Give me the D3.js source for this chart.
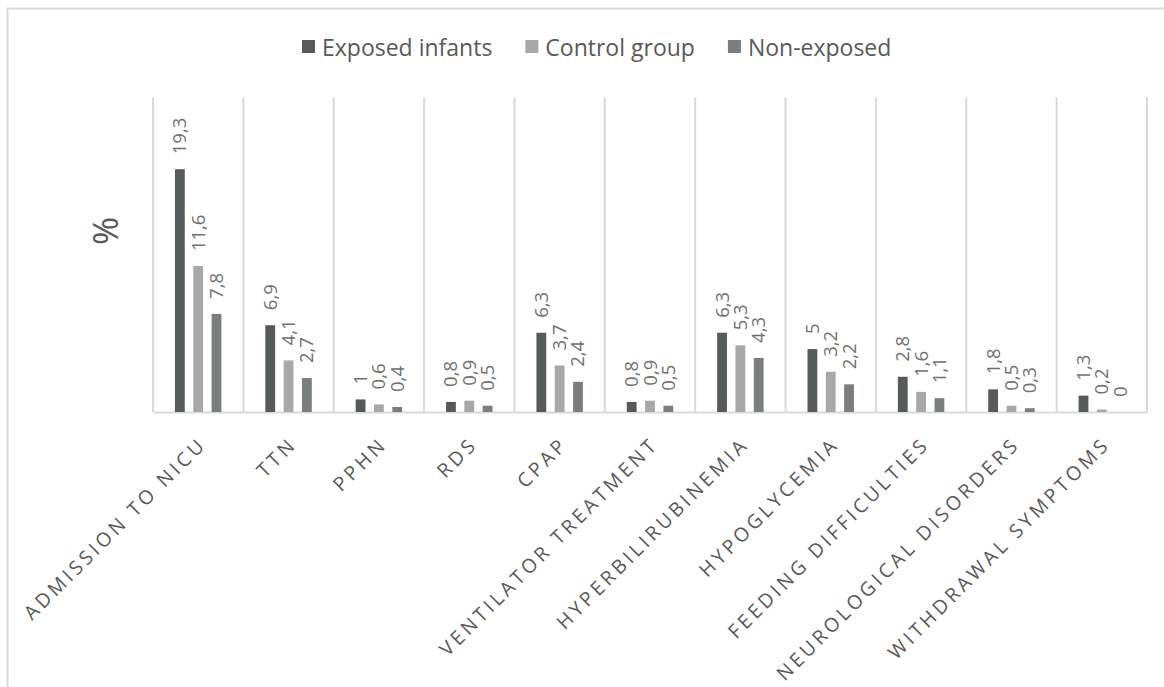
<!DOCTYPE html>
<html>
<head>
<meta charset="utf-8">
<script src="https://cdn.jsdelivr.net/npm/d3@7/dist/d3.min.js"></script>
<style>
  html, body { margin: 0; padding: 0; background: #fff; }
  svg { display: block; }
</style>
</head>
<body>
<svg id="chart" width="1164" height="687"></svg>
<script>
// Neonatal outcomes (%) by exposure group
const categories = [
  "ADMISSION TO NICU", "TTN", "PPHN", "RDS", "CPAP", "VENTILATOR TREATMENT",
  "HYPERBILIRUBINEMIA", "HYPOGLYCEMIA", "FEEDING DIFFICULTIES",
  "NEUROLOGICAL DISORDERS", "WITHDRAWAL SYMPTOMS"
];
const seriesNames = ["Exposed infants", "Control group", "Non-exposed"];
const exposedInfants = [19.3, 6.9, 1, 0.8, 6.3, 0.8, 6.3, 5, 2.8, 1.8, 1.3];
const controlGroup   = [11.6, 4.1, 0.6, 0.9, 3.7, 0.9, 5.3, 3.2, 1.6, 0.5, 0.2];
const nonExposed     = [7.8, 2.7, 0.4, 0.5, 2.4, 0.5, 4.3, 2.2, 1.1, 0.3, 0];
const yAxisTitle = "%";

const seriesValues = [exposedInfants, controlGroup, nonExposed];
const seriesColors = ["#575a5a", "#a7a9a9", "#7b7e7e"];

const W = 1164, H = 687;
const plot = { left: 153, right: 1147, top: 97.5, bottom: 412 };
const gridColor = "#d9d9d9";
const FONT = "'Open Sans', 'Noto Sans', sans-serif";

const svg = d3.select("#chart");

// chart-area frame
svg.append("rect")
  .attr("x", 7.5).attr("y", 8.5)
  .attr("width", W + 20).attr("height", H + 20)
  .attr("fill", "#fff")
  .attr("stroke", gridColor).attr("stroke-width", 2);

const x0 = d3.scaleBand()
  .domain(categories)
  .range([plot.left, plot.right])
  .paddingInner(0).paddingOuter(0);

const cw = x0.bandwidth();
const x1 = d3.scaleBand()
  .domain(seriesNames)
  .range([cw * 0.243, cw * (1 - 0.243)])
  .paddingInner(0.465).paddingOuter(0);

const y = d3.scaleLinear().domain([0, 25]).range([plot.bottom, plot.top]);

// category separators
const edges = categories.map(c => x0(c)).concat([x0(categories[categories.length - 1]) + cw]);
svg.append("g").selectAll("line")
  .data(edges)
  .join("line")
  .attr("x1", d => d).attr("x2", d => d)
  .attr("y1", plot.top).attr("y2", plot.bottom)
  .attr("stroke", gridColor).attr("stroke-width", 2);

// baseline axis
const xAxis = d3.axisBottom(x0).tickSize(0).tickFormat("");
svg.append("g")
  .attr("transform", `translate(0,${plot.bottom})`)
  .call(xAxis)
  .call(g => g.select(".domain").attr("stroke", gridColor).attr("stroke-width", 2));

// bars
const rows = categories.map((c, i) => ({
  category: c,
  values: seriesNames.map((s, k) => ({ series: s, k, value: seriesValues[k][i] }))
}));

const groups = svg.append("g").selectAll("g")
  .data(rows)
  .join("g")
  .attr("transform", d => `translate(${x0(d.category)},0)`);

groups.selectAll("rect")
  .data(d => d.values)
  .join("rect")
  .attr("x", d => x1(d.series))
  .attr("width", x1.bandwidth())
  .attr("y", d => y(d.value))
  .attr("height", d => y(0) - y(d.value))
  .attr("fill", d => seriesColors[d.k]);

// value labels, rotated
const fmt = v => String(v).replace(".", ",");
groups.selectAll("text")
  .data(d => d.values)
  .join("text")
  .attr("transform", d =>
    `translate(${x1(d.series) + x1.bandwidth() / 2 + 6.5},${y(d.value) - 15}) rotate(-90)`)
  .attr("font-family", FONT)
  .attr("font-size", 18.5)
  .attr("fill", "#707070")
  .text(d => fmt(d.value));

// category labels at -45°
const labelSpacing = 3.5;
svg.append("g").selectAll("text")
  .data(categories)
  .join("text")
  .attr("transform", c =>
    `translate(${x0(c) + cw / 2 + 7 + labelSpacing * 0.707},${plot.bottom + 31 + labelSpacing * 0.707}) rotate(-45)`)
  .attr("text-anchor", "end")
  .attr("font-family", FONT)
  .attr("font-size", 19.5)
  .attr("letter-spacing", `${labelSpacing}px`)
  .attr("fill", "#595959")
  .text(c => c);

// y-axis title
svg.append("text")
  .attr("transform", `translate(118,231) rotate(-90)`)
  .attr("text-anchor", "middle")
  .attr("font-family", FONT)
  .attr("font-size", 34)
  .attr("fill", "#595959")
  .text(yAxisTitle);

// legend
const legend = svg.append("g");
let lx = 302;
seriesNames.forEach((name, k) => {
  const item = legend.append("g").attr("transform", `translate(${lx},0)`);
  item.append("rect")
    .attr("x", 0).attr("y", 40)
    .attr("width", 13).attr("height", 13)
    .attr("fill", seriesColors[k]);
  const t = item.append("text")
    .attr("x", 20).attr("y", 55.5)
    .attr("font-family", FONT)
    .attr("font-size", 23)
    .attr("fill", "#595959")
    .text(name);
  lx += 20 + t.node().getComputedTextLength() + 33;
});
</script>
</body>
</html>
